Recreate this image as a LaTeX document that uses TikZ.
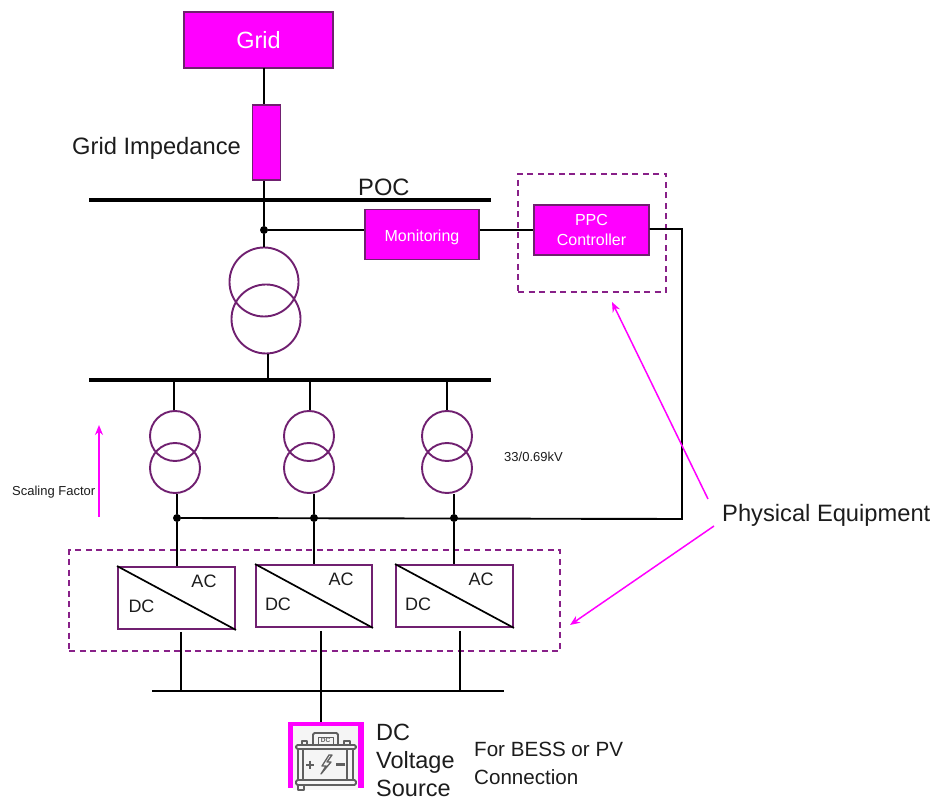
\documentclass[tikz,border=0pt]{standalone}
\usepackage{fontspec}
\setmainfont{Liberation Sans}
\definecolor{mag}{RGB}{255,0,255}
\definecolor{edge}{RGB}{112,32,112}
\definecolor{dashc}{RGB}{136,32,136}
\definecolor{txt}{RGB}{28,28,28}
\definecolor{icon}{RGB}{95,95,95}
\usetikzlibrary{arrows.meta}
\tikzset{
 x=1pt,y=-1pt,
 magbox/.style={draw=edge,fill=mag,line width=1.4pt,inner sep=0pt,text=white,align=center},
 xfmr/.style={draw=edge,line width=1.9pt,circle,minimum size=#1,inner sep=0pt},
 conv/.style={draw=edge,line width=1.9pt,minimum width=116pt,minimum height=62pt,inner sep=0pt},
 wire/.style={draw=black,line width=1.9pt},
 bus/.style={draw=black,line width=3.4pt},
 dbus/.style={draw=black,line width=2pt},
 dashbox/.style={draw=dashc,line width=1.6pt,dash pattern=on 6pt off 4.5pt},
 pointer/.style={draw=mag,line width=1.5pt,-{Stealth[length=10pt,width=8pt]}},
 dot/.style={circle,fill=black,inner sep=0pt,minimum size=8pt},
 lab/.style={text=txt,inner sep=0pt,anchor=west},
 iconl/.style={draw=icon,line width=1.8pt,line join=round},
 cvlab/.style={font=\fontsize{18}{20}\selectfont,text=txt,inner sep=0pt},
}
\begin{document}
\begin{tikzpicture}
\useasboundingbox (0,0) rectangle (935,799);
% dashed boxes
\node[dashbox,minimum width=491pt,minimum height=101pt,inner sep=0pt] (group) at (314.5,600.5) {};
\node[dashbox,minimum width=148pt,minimum height=118pt,inner sep=0pt] (ppcgroup) at (592,233) {};
% coordinates
\coordinate (pocL) at (89,200);
\coordinate (pocR) at (491,200);
\coordinate (mvL) at (89,380);
\coordinate (mvR) at (491,380);
\coordinate (dcL) at (152,691);
\coordinate (dcR) at (504,691);
\coordinate (corner) at (682,229);
\coordinate (corner2) at (682,519);
\coordinate (mvT) at (268,380);
\coordinate (mv1) at (174,380);
\coordinate (mv2) at (310,380);
\coordinate (mv3) at (447,380);
\coordinate (dc1) at (181,691);
\coordinate (dc2) at (321,691);
\coordinate (dc3) at (460,691);
\coordinate (pocT) at (264,200);
% boxes
\node[magbox,minimum width=149pt,minimum height=56pt,font=\fontsize{23.5}{26}\selectfont] (grid) at (258.5,40) {Grid};
\node[magbox,minimum width=28pt,minimum height=75pt] (imp) at (266.5,142.5) {};
\node[magbox,minimum width=114pt,minimum height=50pt] (mon) at (422,234.5) {};
\node[font=\fontsize{16}{19}\selectfont,text=white,inner sep=0pt] (monl) at (422,237) {Monitoring};
\node[magbox,minimum width=115pt,minimum height=50pt,font=\fontsize{16}{20}\selectfont] (ppc) at (591.5,230) {PPC\\Controller};
% wires
\draw[wire] (264,68) coordinate (gs) -- (gs |- imp.north);
\draw[wire] (imp.south -| gs) -- (pocT);
\draw[bus] (pocL) -- (pocR);
\draw[bus] (mvL) -- (mvR);
\draw[dbus] (dcL) -- (dcR);
\node[dot] (d0) at (264,230) {};
\node[dot] (d1) at (177,518) {};
\node[dot] (d2) at (314,518) {};
\node[dot] (d3) at (454,518) {};
% transformers
\node[xfmr=69pt] (t0a) at (264,282) {};
\node[xfmr=69pt] (t0b) at (266,319) {};
\foreach \n/\x in {1/175,2/309,3/447}{
 \node[xfmr=50pt] (t\n a) at (\x,436) {};
 \node[xfmr=50pt] (t\n b) at (\x,468) {};
}
\draw[wire] (pocT) -- (d0) -- (t0a.north);
\draw[wire] (d0) -- (mon.west |- d0);
\draw[wire] (mon.east |- d0) -- (ppc.west |- d0);
\draw[wire] (ppc.east |- corner) -- (corner) -- (corner2) -- (d1);
\draw[wire] (t0b.south -| mvT) -- (mvT);
\draw[wire] (mv1) -- (t1a.north -| mv1);
\draw[wire] (mv2) -- (t2a.north -| mv2);
\draw[wire] (mv3) -- (t3a.north -| mv3);
% converters
\node[conv,minimum width=117pt] (c1) at (176.5,598) {};
\node[conv,minimum width=116pt] (c2) at (314,596) {};
\node[conv,minimum width=117pt] (c3) at (454.5,596) {};
\foreach \n in {1,2,3}{
 \draw[draw=black,line width=1.7pt] (c\n.north west) -- (c\n.south east);
}
\node[cvlab] (ac1) at (204,581) {AC};
\node[cvlab] (dc1l) at (141.5,606) {DC};
\node[cvlab] (ac2) at (341,579) {AC};
\node[cvlab] (dc2l) at (278,604) {DC};
\node[cvlab] (ac3) at (481,579) {AC};
\node[cvlab] (dc3l) at (418,604) {DC};
\draw[wire] (d1 |- t1b.south) -- (d1) -- (d1 |- c1.north);
\draw[wire] (d2 |- t2b.south) -- (d2) -- (d2 |- c2.north);
\draw[wire] (d3 |- t3b.south) -- (d3) -- (d3 |- c3.north);
\draw[wire] (dc1 |- c1.south) ++(0,2) -- (dc1);
\draw[wire] (dc2 |- c2.south) ++(0,3) -- (dc2);
\draw[wire] (dc3 |- c3.south) ++(0,3) -- (dc3);
% battery icon
\node[draw=none,fill=mag,minimum width=76pt,minimum height=66pt,inner sep=0pt] (batt) at (326,755) {};
\fill[black!4] (293,726) rectangle (358,790);
\draw[wire] (dc2) -- (dc2 |- batt.north);
\draw[iconl,rounded corners=1.5pt] (313,745) -- (313,733) -- (338,733) -- (338,745);
\draw[iconl,line width=1pt] (318,737) rectangle (333,744);
\node[font=\fontsize{6.5}{6.5}\selectfont\bfseries,text=icon,inner sep=0pt] (dct) at (325.5,740.5) {DC};
\draw[iconl,rounded corners=1.5pt] (296,745) rectangle (356,749);
\draw[iconl,rounded corners=1.5pt] (296,780) rectangle (356,785);
\draw[iconl] (302,745) -- (302,741) -- (307,741) -- (307,745);
\draw[iconl] (344,745) -- (344,741) -- (350,741) -- (350,745);
\draw[iconl] (298,749) -- (298,780) (303,749) -- (303,780);
\draw[iconl] (347,749) -- (347,780) (353,749) -- (353,780);
\draw[iconl] (298,785) rectangle (304,790);
\draw[iconl,line width=2pt] (306,764.5) -- (314,764.5) (310,760.5) -- (310,768.5);
\draw[iconl,line width=2.4pt] (336,764.5) -- (345,764.5);
\draw[iconl,line width=1.3pt] (329,755) -- (322,766) -- (326,766) -- (321,774) -- (331,762) -- (327,762) -- (332,755) -- cycle;
% pointers
\coordinate (sfA) at (99,517);
\coordinate (sfB) at (99,425);
\draw[pointer] (sfA) -- (sfB);
\node[lab,font=\fontsize{23.7}{27}\selectfont] (pe) at (722,515) {Physical Equipment};
\coordinate (p1) at (708,499);
\coordinate (p2) at (714,526);
\coordinate (p1e) at (612,302);
\coordinate (p2e) at (570,625);
\draw[pointer] (p1) -- (p1e);
\draw[pointer] (p2) -- (p2e);
% labels
\node[lab,font=\fontsize{23.7}{27}\selectfont] (gi) at (72,148) {Grid Impedance};
\node[lab,font=\fontsize{23.7}{27}\selectfont] (poc) at (358,187) {POC};
\node[lab,font=\fontsize{13}{15}\selectfont] (sf) at (12,492) {Scaling Factor};
\node[lab,font=\fontsize{13}{15}\selectfont] (kv) at (504,457) {33/0.69kV};
\node[lab,font=\fontsize{23.5}{28}\selectfont,align=left] (dcv) at (376,760) {DC\\Voltage\\Source};
\node[lab,font=\fontsize{20.6}{28}\selectfont,align=left] (bess) at (474,763) {For BESS or PV\\Connection};
\end{tikzpicture}
\end{document}
